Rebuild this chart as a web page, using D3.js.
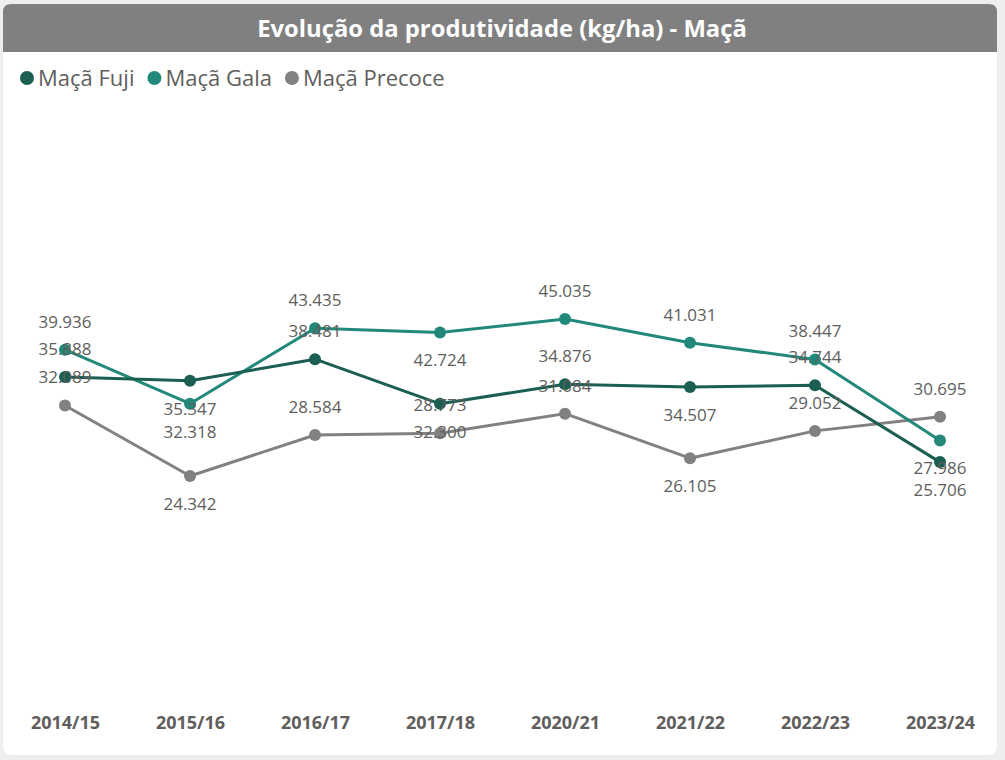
<!DOCTYPE html>
<html><head><meta charset="utf-8">
<script src="https://cdn.jsdelivr.net/npm/d3@7"></script>
<style>
html,body{margin:0;padding:0;background:#eceeef;}
svg{display:block;}
</style></head>
<body>
<svg id="chart" width="1005" height="760"></svg>
<script>
const categories = ["2014/15","2015/16","2016/17","2017/18","2020/21","2021/22","2022/23","2023/24"];
const seriesNames = ["Maçã Fuji","Maçã Gala","Maçã Precoce"];
const fuji    = [35.888, 35.347, 38.481, 32.300, 34.876, 34.507, 34.744, 25.706];
const gala    = [39.936, 32.318, 43.435, 42.724, 45.035, 41.031, 38.447, 27.986];
const precoce = [32.089, 24.342, 28.584, 28.773, 31.084, 26.105, 29.052, 30.695];
// label placement (1 = above marker, -1 = below), as laid out in the reference
const fujiLabelPos    = [1,-1,1,-1,1,-1,1,-1];
const galaLabelPos    = [1,-1,1,-1,1,1,1,-1];
const precoceLabelPos = [1,-1,1,1,1,-1,1,1];

const colors = ["#1b5e52","#22897a","#818181"];
const series = [
  {name: seriesNames[0], values: fuji, pos: fujiLabelPos, color: colors[0]},
  {name: seriesNames[1], values: gala, pos: galaLabelPos, color: colors[1]},
  {name: seriesNames[2], values: precoce, pos: precoceLabelPos, color: colors[2]}
];

const FONT = "'Segoe UI','Open Sans','Noto Sans',sans-serif";
const svg = d3.select("#chart");

// card
svg.append("rect").attr("x",3).attr("y",4).attr("width",994).attr("height",751)
  .attr("rx",8).attr("fill","#ffffff");
// title bar
svg.append("path")
  .attr("d","M3,52 V12 Q3,4 11,4 H989 Q997,4 997,12 V52 Z")
  .attr("fill","#808080");
svg.append("text").attr("x",502).attr("y",37).attr("text-anchor","middle")
  .attr("font-family",FONT).attr("font-weight","bold").attr("font-size",23.8)
  .attr("fill","#ffffff").text("Evolução da produtividade (kg/ha) - Maçã");

// legend
let lx = 27;
const legend = svg.append("g");
series.forEach(s => {
  legend.append("circle").attr("cx",lx).attr("cy",78).attr("r",7).attr("fill",s.color);
  const t = legend.append("text").attr("x",lx+11).attr("y",85.5)
    .attr("font-family",FONT).attr("font-size",22).attr("fill","#605e5c").text(s.name);
  lx += 11 + t.node().getComputedTextLength() + 20;
});

// scales
const x = d3.scalePoint().domain(categories).range([2.5,1002.5]).padding(0.5);
const y = d3.scaleLog().domain([10,100]).range([703,115.5]);

// x axis
const xAxis = svg.append("g").attr("transform","translate(0,716)")
  .call(d3.axisBottom(x).tickSize(0).tickPadding(0));
xAxis.select(".domain").remove();
xAxis.selectAll("text").attr("font-family",FONT).attr("font-weight","bold")
  .attr("font-size",18).attr("fill","#605e5c").attr("dy","0.71em");

// lines
const line = d3.line().x((d,i)=>x(categories[i])).y(d=>y(d));
const g = svg.append("g");
series.slice().reverse().forEach(s => {
  g.append("path").datum(s.values).attr("d",line).attr("fill","none")
    .attr("stroke",s.color).attr("stroke-width",3).attr("stroke-linejoin","round");
});
series.slice().reverse().forEach(s => {
  g.selectAll(null).data(s.values).enter().append("circle")
    .attr("cx",(d,i)=>x(categories[i])).attr("cy",d=>y(d)).attr("r",6).attr("fill",s.color);
});

// data labels
const fmt = v => d3.format(".3f")(v);
const lg = svg.append("g");
series.forEach(s => {
  lg.selectAll(null).data(s.values).enter().append("text")
    .attr("x",(d,i)=>x(categories[i]))
    .attr("y",(d,i)=>y(d) - s.pos[i]*28)
    .attr("dy","0.35em")
    .attr("text-anchor","middle")
    .attr("font-family",FONT).attr("font-size",17).attr("fill","#605e5c")
    .text(d=>fmt(d));
});
</script>
</body></html>
